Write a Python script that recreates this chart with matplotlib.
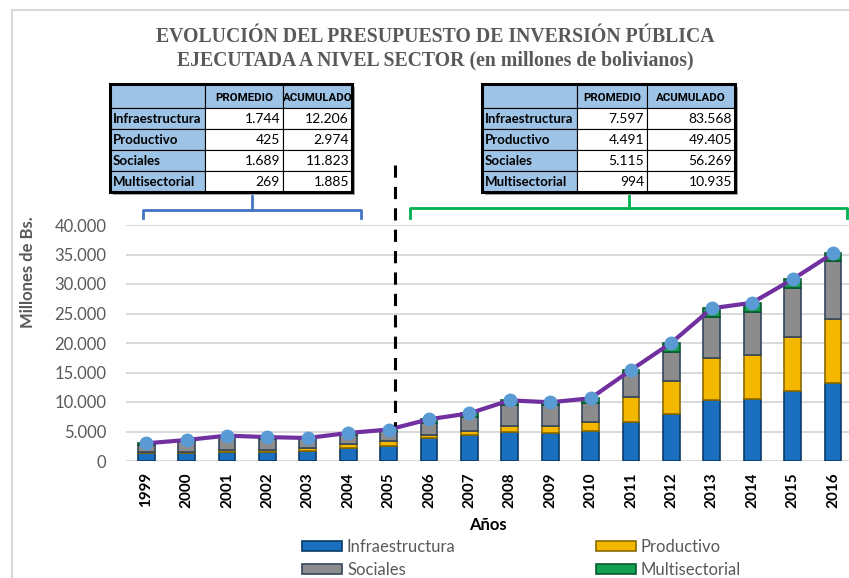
import matplotlib
matplotlib.use("Agg")
import matplotlib.pyplot as plt
from matplotlib.patches import Rectangle, Patch
import numpy as np

# ---------------- data ----------------
years = ["1999", "2000", "2001", "2002", "2003", "2004", "2005", "2006", "2007",
         "2008", "2009", "2010", "2011", "2012", "2013", "2014", "2015", "2016"]
infraestructura = [1300, 1350, 1500, 1500, 1750, 2200, 2606, 3843, 4410, 4970,
                   4800, 5085, 6660, 7910, 10400, 10450, 11870, 13170]
productivo = [250, 250, 350, 350, 450, 600, 724, 600, 750, 1000, 1150, 1450,
              4200, 5600, 7000, 7600, 9100, 10955]
sociales = [1200, 1710, 2150, 1950, 1450, 1650, 1713, 1977, 2370, 3560, 3600,
            3295, 4010, 5040, 7080, 7280, 8320, 9737]
multisectorial = [250, 250, 300, 250, 250, 300, 285, 650, 550, 750, 400, 800,
                  550, 1500, 1400, 1500, 1500, 1335]

y_ticks = [0, 5000, 10000, 15000, 20000, 25000, 30000, 35000, 40000]

table_rows = ["Infraestructura", "Productivo", "Sociales", "Multisectorial"]
table_header = ["PROMEDIO", "ACUMULADO"]
left_promedio = [1744, 425, 1689, 269]
left_acumulado = [12206, 2974, 11823, 1885]
right_promedio = [7597, 4491, 5115, 994]
right_acumulado = [83568, 49405, 56269, 10935]

# ---------------- style ----------------
W, H = 849, 578
SANS = ["Lato", "DejaVu Sans"]
plt.rcParams["font.family"] = SANS
GRAY_TXT = "#595959"

c_inf, e_inf = "#1b6fbf", "#0b3a66"
c_pro, e_pro = "#f4b800", "#8a6a00"
c_soc, e_soc = "#8c8c8c", "#34465c"
c_mul, e_mul = "#13a050", "#0a5a2c"
c_line = "#7030a0"
c_mark = "#5b9bd5"

def fmt(v):
    return f"{v:,}".replace(",", ".")

fig = plt.figure(figsize=(W / 100, H / 100), dpi=100)
renderer = fig.canvas.get_renderer()

# main axes
ax_left, ax_right, ax_bottom, ax_top = 126, 849, 461, 225
ax = fig.add_axes([ax_left / W, 1 - ax_bottom / H, (ax_right - ax_left) / W,
                   (ax_bottom - ax_top) / H])
step = 40.4
x = np.arange(len(years))
ax.set_xlim(-0.5, -0.5 + (ax_right - ax_left) / step)
ax.set_ylim(0, 40000)

inf = np.array(infraestructura)
pro = np.array(productivo)
soc = np.array(sociales)
mul = np.array(multisectorial)
total = inf + pro + soc + mul

bw = 0.42
ax.bar(x, inf, bw, color=c_inf, edgecolor=e_inf, linewidth=1.2, zorder=3)
ax.bar(x, pro, bw, bottom=inf, color=c_pro, edgecolor=e_pro, linewidth=1.2, zorder=3)
ax.bar(x, soc, bw, bottom=inf + pro, color=c_soc, edgecolor=e_soc, linewidth=1.2, zorder=3)
ax.bar(x, mul, bw, bottom=inf + pro + soc, color=c_mul, edgecolor=e_mul, linewidth=1.2, zorder=3)
ax.plot(x, total, color=c_line, lw=3, zorder=4, marker="o", markersize=9,
        markerfacecolor=c_mark, markeredgecolor=c_mark)

ax.set_yticks(y_ticks)
ax.set_yticklabels([fmt(v) for v in y_ticks], color=GRAY_TXT, fontsize=12)
ax.set_xticks(x)
ax.set_xticklabels(years, rotation=90, fontsize=11, fontweight="bold", color="black")
ax.tick_params(axis="y", length=0, pad=14)
ax.tick_params(axis="x", length=0, pad=8)
ax.grid(axis="y", color="#d9d9d9", lw=1.4, zorder=0)
ax.set_axisbelow(True)
for s in ax.spines.values():
    s.set_visible(False)

# overlay axes in pixel coordinates for annotations
ov = fig.add_axes([0, 0, 1, 1], zorder=5)
ov.set_xlim(0, W)
ov.set_ylim(H, 0)
ov.axis("off")
ov.patch.set_alpha(0)

# chart border (top and left)
ov.plot([12, W], [10, 10], color="#d9d9d9", lw=1.5)
ov.plot([12, 12], [10, H], color="#d9d9d9", lw=1.5)

# title
ov.text(435, 37, "EVOLUCIÓN DEL PRESUPUESTO DE INVERSIÓN PÚBLICA", ha="center", va="center",
        family=["Liberation Serif"], fontweight="bold", fontsize=14.2, color=GRAY_TXT)
ov.text(435, 60, "EJECUTADA A NIVEL SECTOR (en millones de bolivianos)", ha="center", va="center",
        family=["Liberation Serif"], fontweight="bold", fontsize=14.2, color=GRAY_TXT)

# axis titles
ov.text(28, 272, "Millones de Bs.", rotation=90, ha="center", va="center",
        fontsize=12, fontweight="bold", color=GRAY_TXT)
ov.text(488, 525, "Años", ha="center", va="center", fontsize=12, fontweight="bold", color="black")

# tables
def fit_size(t, maxw, fs):
    while fs > 6:
        t.set_fontsize(fs)
        if t.get_window_extent(renderer).width <= maxw:
            break
        fs -= 0.25
    return fs

headers_txt, labels_txt = [], []
HEAD_FONT = ["Roboto", "Lato", "DejaVu Sans"]

def draw_table(x0, y0, widths, prom, acum):
    hh, rh = 24, 21
    fs = 10
    total_w = sum(widths)
    total_h = hh + rh * len(table_rows)
    ov.add_patch(Rectangle((x0 + 3, y0 + 3), total_w, total_h, facecolor="#a6a6a6",
                           edgecolor="none", zorder=1))
    blue = "#9dc3e6"
    xs = np.cumsum([x0] + widths)
    for j in range(3):
        ov.add_patch(Rectangle((xs[j], y0), widths[j], hh, facecolor=blue,
                               edgecolor="black", lw=0.8, zorder=2))
    for j, t in enumerate(table_header):
        tt = ov.text(xs[j + 1] + widths[j + 1] / 2, y0 + hh * 0.6, t, ha="center",
                     va="center", fontsize=fs, fontweight="bold", family=HEAD_FONT, zorder=3)
        headers_txt.append((tt, widths[j + 1] + 1))
    for i, name in enumerate(table_rows):
        yy = y0 + hh + i * rh
        ov.add_patch(Rectangle((xs[0], yy), widths[0], rh, facecolor=blue,
                               edgecolor="black", lw=0.8, zorder=2))
        ov.add_patch(Rectangle((xs[1], yy), widths[1], rh, facecolor="white",
                               edgecolor="black", lw=0.8, zorder=2))
        ov.add_patch(Rectangle((xs[2], yy), widths[2], rh, facecolor="white",
                               edgecolor="black", lw=0.8, zorder=2))
        tn = ov.text(xs[0] + 3, yy + rh / 2 + 0.5, name, ha="left", va="center",
                     fontsize=fs, fontweight="bold", zorder=3)
        labels_txt.append((tn, widths[0] - 5))
        ov.text(xs[2] - 3, yy + rh / 2 + 0.5, fmt(prom[i]), ha="right", va="center",
                fontsize=fs, zorder=3)
        ov.text(xs[3] - 3, yy + rh / 2 + 0.5, fmt(acum[i]), ha="right", va="center",
                fontsize=fs, zorder=3)
    ov.add_patch(Rectangle((x0, y0), total_w, total_h, facecolor="none",
                           edgecolor="black", lw=2.2, zorder=4))

draw_table(110, 84, [95, 78, 69], left_promedio, left_acumulado)
draw_table(482, 84, [95, 70, 88], right_promedio, right_acumulado)

for group in (headers_txt, labels_txt):
    size = min(fit_size(t, w, 10) for t, w in group)
    for t, w in group:
        t.set_fontsize(size)

# brackets
def bracket(x1, x2, xc, ytop, ybar, yend, color):
    ov.plot([x1, x1, x2, x2], [yend, ybar, ybar, yend], color=color, lw=2, solid_joinstyle="round")
    ov.plot([xc, xc], [ytop, ybar], color=color, lw=2)

bracket(143, 361, 252, 196, 210, 218, "#4472c4")
bracket(410, 847, 629, 196, 208, 218, "#00b050")

# dashed separator
ov.plot([395, 395], [165, 426], color="black", lw=2.2, ls=(0, (4, 3)))

# legends
h_inf = Patch(facecolor=c_inf, edgecolor=e_inf, lw=1.2)
h_pro = Patch(facecolor=c_pro, edgecolor=e_pro, lw=1.2)
h_soc = Patch(facecolor=c_soc, edgecolor=e_soc, lw=1.2)
h_mul = Patch(facecolor=c_mul, edgecolor=e_mul, lw=1.2)
leg_kw = dict(loc="upper left", frameon=False, fontsize=12, handlelength=2.4,
              handleheight=0.6, handletextpad=0.3, labelspacing=0.42,
              borderpad=0, borderaxespad=0, labelcolor=GRAY_TXT)
fig.legend([h_inf, h_soc], ["Infraestructura", "Sociales"],
           bbox_to_anchor=(302 / W, 1 - 539 / H), **leg_kw)
fig.legend([h_pro, h_mul], ["Productivo", "Multisectorial"],
           bbox_to_anchor=(596 / W, 1 - 539 / H), **leg_kw)

fig.savefig("out.png", dpi=100)
